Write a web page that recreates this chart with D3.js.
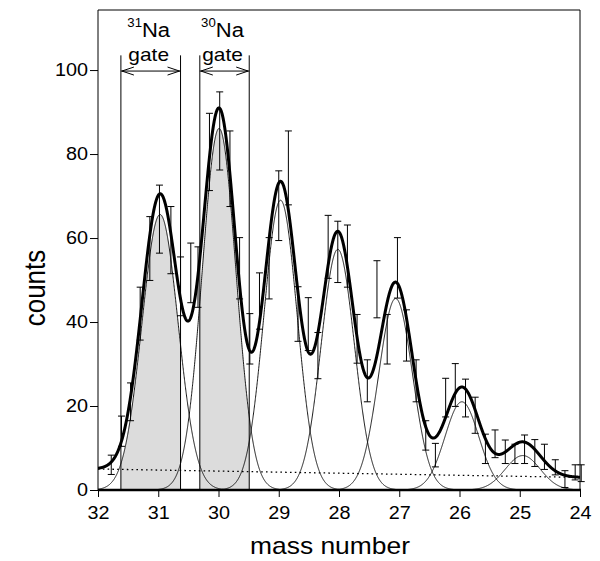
<!DOCTYPE html>
<html><head><meta charset="utf-8">
<script src="https://cdn.jsdelivr.net/npm/d3@7"></script>
<style>
body{margin:0;background:#fff}
svg{display:block}
text{font-family:"Liberation Sans",Arial,Helvetica,sans-serif;fill:#000}
</style>
</head><body>
<svg id="chart" width="600" height="561"></svg>
<script>
// ---------- data ----------
const massTicks = [32,31,30,29,28,27,26,25,24];
const countTicks = [0,20,40,60,80,100];

const dataMass = [31.78,31.61,31.46,31.30,31.14,30.98,30.79,30.63,30.46,30.34,
  30.15,29.98,29.81,29.65,29.48,29.32,29.16,29.00,28.84,28.68,
  28.51,28.35,28.18,28.02,27.86,27.70,27.53,27.37,27.20,27.03,
  26.88,26.72,26.56,26.40,26.23,26.07,25.90,25.74,25.57,25.41,
  25.24,25.08,24.92,24.75,24.59,24.41,24.25,24.08,23.98];
const dataCounts = [6.0,14.0,21.0,42.0,57.5,64.5,59.5,48.5,51.7,50.7,
  80.5,85.5,76.5,52.8,36.0,45.0,52.8,67.7,76.7,41.9,
  39.5,32.0,57.9,56.7,55.7,36.0,26.0,47.8,35.9,52.9,
  36.8,26.0,13.0,8.3,22.0,25.0,21.9,17.8,9.8,11.0,
  9.1,8.6,9.7,8.8,7.9,5.4,2.6,4.2,4.0];
const dataErrors = [2.3,3.6,4.5,6.3,7.6,8.1,8.0,7.0,7.1,7.2,
  9.2,9.3,9.0,7.3,6.0,6.7,7.3,8.3,8.8,6.5,
  6.3,5.5,7.5,7.3,7.4,5.8,5.0,6.8,5.9,7.2,
  6.1,5.0,3.5,2.8,4.6,5.1,4.5,4.3,3.5,3.3,
  2.8,2.3,3.4,3.2,3.0,1.8,2.0,1.8,2.0];

// Gaussian fit components
const peakCenters = [30.97,29.99,28.97,28.02,27.06,25.96,24.95];
const peakHeights = [65.6,86.1,69.0,57.3,45.6,21.0,8.2];
const peakSigmas  = [0.30,0.28,0.275,0.275,0.28,0.28,0.29];
// linear background: value at mass 32 and at mass 24
const backgroundMass = [32,24];
const backgroundLevel = [5.0,3.0];

// gates
const gateIsotope = ["31","30"];
const gateHigh = [31.62,30.31];
const gateLow  = [30.63,29.49];
const gatePeak = [0,1];

// ---------- layout ----------
const svg = d3.select("#chart");
const L = 98, R = 580, T = 10, B = 490;
const x = d3.scaleLinear().domain([32,24]).range([L,R]);
const y = d3.scaleLinear().domain([0,114.3]).range([B,T]);
const bg = d3.scaleLinear().domain(backgroundMass).range(backgroundLevel);

const gauss = (i,m) => peakHeights[i]*Math.exp(-((m-peakCenters[i])**2)/(2*peakSigmas[i]**2));
const total = m => bg(m) + peakCenters.reduce((s,_,i)=>s+gauss(i,m),0);
const grid = d3.range(3201).map(k => 32 - k*0.0025);

svg.append("defs").append("clipPath").attr("id","plot")
  .append("rect").attr("x",L).attr("y",T).attr("width",R-L).attr("height",B-T);
const plot = svg.append("g").attr("clip-path","url(#plot)");

// gray gate fills
gatePeak.forEach((p,g) => {
  const pts = grid.filter(m => m <= gateHigh[g] && m >= gateLow[g]);
  plot.append("path")
    .datum(pts)
    .attr("fill","#dcdcdc")
    .attr("d", d3.area().x(m=>x(m)).y0(y(0)).y1(m=>y(gauss(p,m))));
});

// thin components
peakCenters.forEach((c,i) => {
  plot.append("path").datum(grid)
    .attr("fill","none").attr("stroke","#000").attr("stroke-width",0.9)
    .attr("d", d3.line().x(m=>x(m)).y(m=>y(gauss(i,m))));
});

// background dotted
plot.append("path").datum(grid)
  .attr("fill","none").attr("stroke","#000").attr("stroke-width",1.3)
  .attr("stroke-dasharray","1.6,3.2")
  .attr("d", d3.line().x(m=>x(m)).y(m=>y(bg(m))));

// total fit
plot.append("path").datum(grid)
  .attr("fill","none").attr("stroke","#000").attr("stroke-width",3)
  .attr("d", d3.line().x(m=>x(m)).y(m=>y(total(m))));

// error bars
const eb = svg.append("g").attr("stroke","#000").attr("stroke-width",1);
dataMass.forEach((m,i) => {
  const lo = dataCounts[i]-dataErrors[i], hi = dataCounts[i]+dataErrors[i];
  const xi = x(m);
  eb.append("line").attr("x1",xi).attr("x2",xi).attr("y1",y(lo)).attr("y2",y(hi));
  eb.append("line").attr("x1",xi-3.5).attr("x2",xi+3.5).attr("y1",y(hi)).attr("y2",y(hi));
  eb.append("line").attr("x1",xi-3.5).attr("x2",xi+3.5).attr("y1",y(lo)).attr("y2",y(lo));
});

// gate lines, arrows and labels
const gl = svg.append("g").attr("stroke","#000").attr("stroke-width",1).attr("fill","none");
const gateTop = y(103.5), arrowY = y(100) + 1;
gateIsotope.forEach((iso,g) => {
  const x1 = x(gateHigh[g]), x2 = x(gateLow[g]);
  gl.append("line").attr("x1",x1).attr("x2",x1).attr("y1",B).attr("y2",gateTop);
  gl.append("line").attr("x1",x2).attr("x2",x2).attr("y1",B).attr("y2",gateTop);
  gl.append("line").attr("x1",x1).attr("x2",x2).attr("y1",arrowY).attr("y2",arrowY);
  gl.append("path").attr("d",`M${x1+13},${arrowY-4}L${x1+1},${arrowY}L${x1+13},${arrowY+4}`);
  gl.append("path").attr("d",`M${x2-13},${arrowY-4}L${x2-1},${arrowY}L${x2-13},${arrowY+4}`);
  const cx = (x1+x2)/2 - 2;
  const t = svg.append("text").attr("class","st").attr("x",cx).attr("y",37)
    .attr("text-anchor","middle").style("font-size","20px");
  t.append("tspan").attr("dy","-10").style("font-size","12px").text(iso);
  t.append("tspan").attr("dy","10").text("Na");
  svg.append("text").attr("class","st").attr("x",cx).attr("y",61)
    .attr("text-anchor","middle").style("font-size","19px").text("gate");
});

// frame
svg.append("path").attr("fill","none").attr("stroke","#000").attr("stroke-width",1)
  .attr("d",`M${L},${B}V${T}H${R}V${B}`);

// axes
const ax = svg.append("g").attr("transform",`translate(${L},0)`)
  .call(d3.axisLeft(y).tickValues(countTicks).tickSize(8).tickPadding(2));
ax.select(".domain").remove();
ax.selectAll("text").attr("class","st").style("font-size","18px").style("font-family",null);
ax.selectAll("line").attr("stroke-width",1);

const bx = svg.append("g").attr("transform",`translate(0,${B})`)
  .call(d3.axisBottom(x).tickValues(massTicks).tickFormat(d3.format("d")).tickSize(7).tickPadding(9));
bx.select(".domain").remove();
bx.selectAll("text").attr("class","st").style("font-size","18px").style("font-family",null);
svg.append("line").attr("x1",L).attr("x2",R+1).attr("y1",B).attr("y2",B)
  .attr("stroke","#000").attr("stroke-width",2.5);

// titles
svg.append("text").attr("class","st").attr("x",330).attr("y",554)
  .attr("text-anchor","middle").style("font-size","24px").text("mass number");
svg.append("text").attr("transform",`translate(45,288) rotate(-90) scale(1,1.1)`)
  .attr("text-anchor","middle").style("font-size","26px").text("counts");

// slight horizontal stretch of texts to match the reference's wide lettering
svg.selectAll("text.st").each(function(){
  const w = this.getComputedTextLength();
  this.setAttribute("textLength", w*1.1);
  this.setAttribute("lengthAdjust","spacingAndGlyphs");
});
</script>
</body></html>
